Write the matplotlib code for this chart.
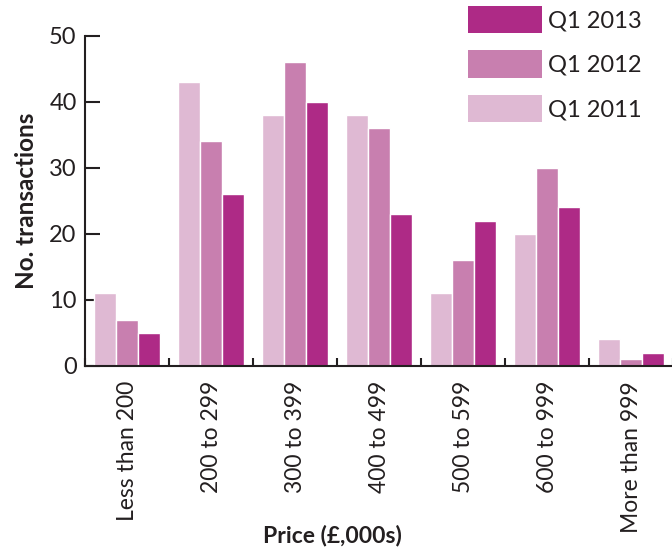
import matplotlib
matplotlib.use("Agg")
import matplotlib.pyplot as plt
import numpy as np
from matplotlib.patches import Patch

categories = ["Less than 200", "200 to 299", "300 to 399", "400 to 499",
              "500 to 599", "600 to 999", "More than 999"]
q1_2011 = [11, 43, 38, 38, 11, 20, 4]
q1_2012 = [7, 34, 46, 36, 16, 30, 1]
q1_2013 = [5, 26, 40, 23, 22, 24, 2]
series_names = ["Q1 2011", "Q1 2012", "Q1 2013"]
colors = ["#DFB9D3", "#C87FAF", "#AE2A86"]
yticks = [0, 10, 20, 30, 40, 50]

plt.rcParams['font.family'] = ['Lato', 'DejaVu Sans']
ink = "#231F20"

fig = plt.figure(figsize=(6.72, 5.5), dpi=100)
ax = fig.add_axes([85/672, 1-365.7/550, 588/672, 330/550])

x = np.arange(len(categories))
w = 0.262
for i, (vals, c) in enumerate(zip([q1_2011, q1_2012, q1_2013], colors)):
    ax.bar(x + (i-1)*w, vals, width=w, color=c, edgecolor="white", linewidth=1.0, zorder=2)

ax.set_xlim(-0.5, len(categories)-0.5)
ax.set_ylim(0, 50)
ax.set_yticks(yticks)
ax.set_yticklabels([str(t) for t in yticks], fontsize=17, color=ink)
ax.set_xticks(x)
ax.set_xticklabels(categories, rotation=90, fontsize=16.5, color=ink)
ax.set_xticks(np.arange(len(categories)+1)-0.5, minor=True)
ax.tick_params(axis='x', which='major', length=0, pad=11)
ax.tick_params(axis='x', which='minor', direction='in', length=5.5, width=1.5, color=ink)
ax.tick_params(axis='y', direction='in', length=10.5, width=1.5, color=ink, pad=6)
for s in ["top", "right"]:
    ax.spines[s].set_visible(False)
for s in ["left", "bottom"]:
    ax.spines[s].set_linewidth(1.5)
    ax.spines[s].set_color(ink)
    ax.spines[s].set_zorder(3)

ax.set_ylabel("No. transactions", fontsize=17.5, fontweight="bold", color=ink, labelpad=8)
fig.text(332/672, 1-535/550, "Price (£,000s)", fontsize=16.5, fontweight="bold",
         color=ink, ha="center", va="center")

handles = [Patch(facecolor=colors[2]), Patch(facecolor=colors[1]), Patch(facecolor=colors[0])]
labels = [series_names[2], series_names[1], series_names[0]]
leg = ax.legend(handles, labels, loc="upper left", bbox_to_anchor=(468/672, 1-6/550),
                bbox_transform=fig.transFigure, frameon=False, fontsize=17,
                handlelength=3.13, handleheight=1.4, labelspacing=0.72,
                handletextpad=0.25, borderaxespad=0, borderpad=0)
for t in leg.get_texts():
    t.set_color(ink)

fig.savefig("out.png", dpi=100)
